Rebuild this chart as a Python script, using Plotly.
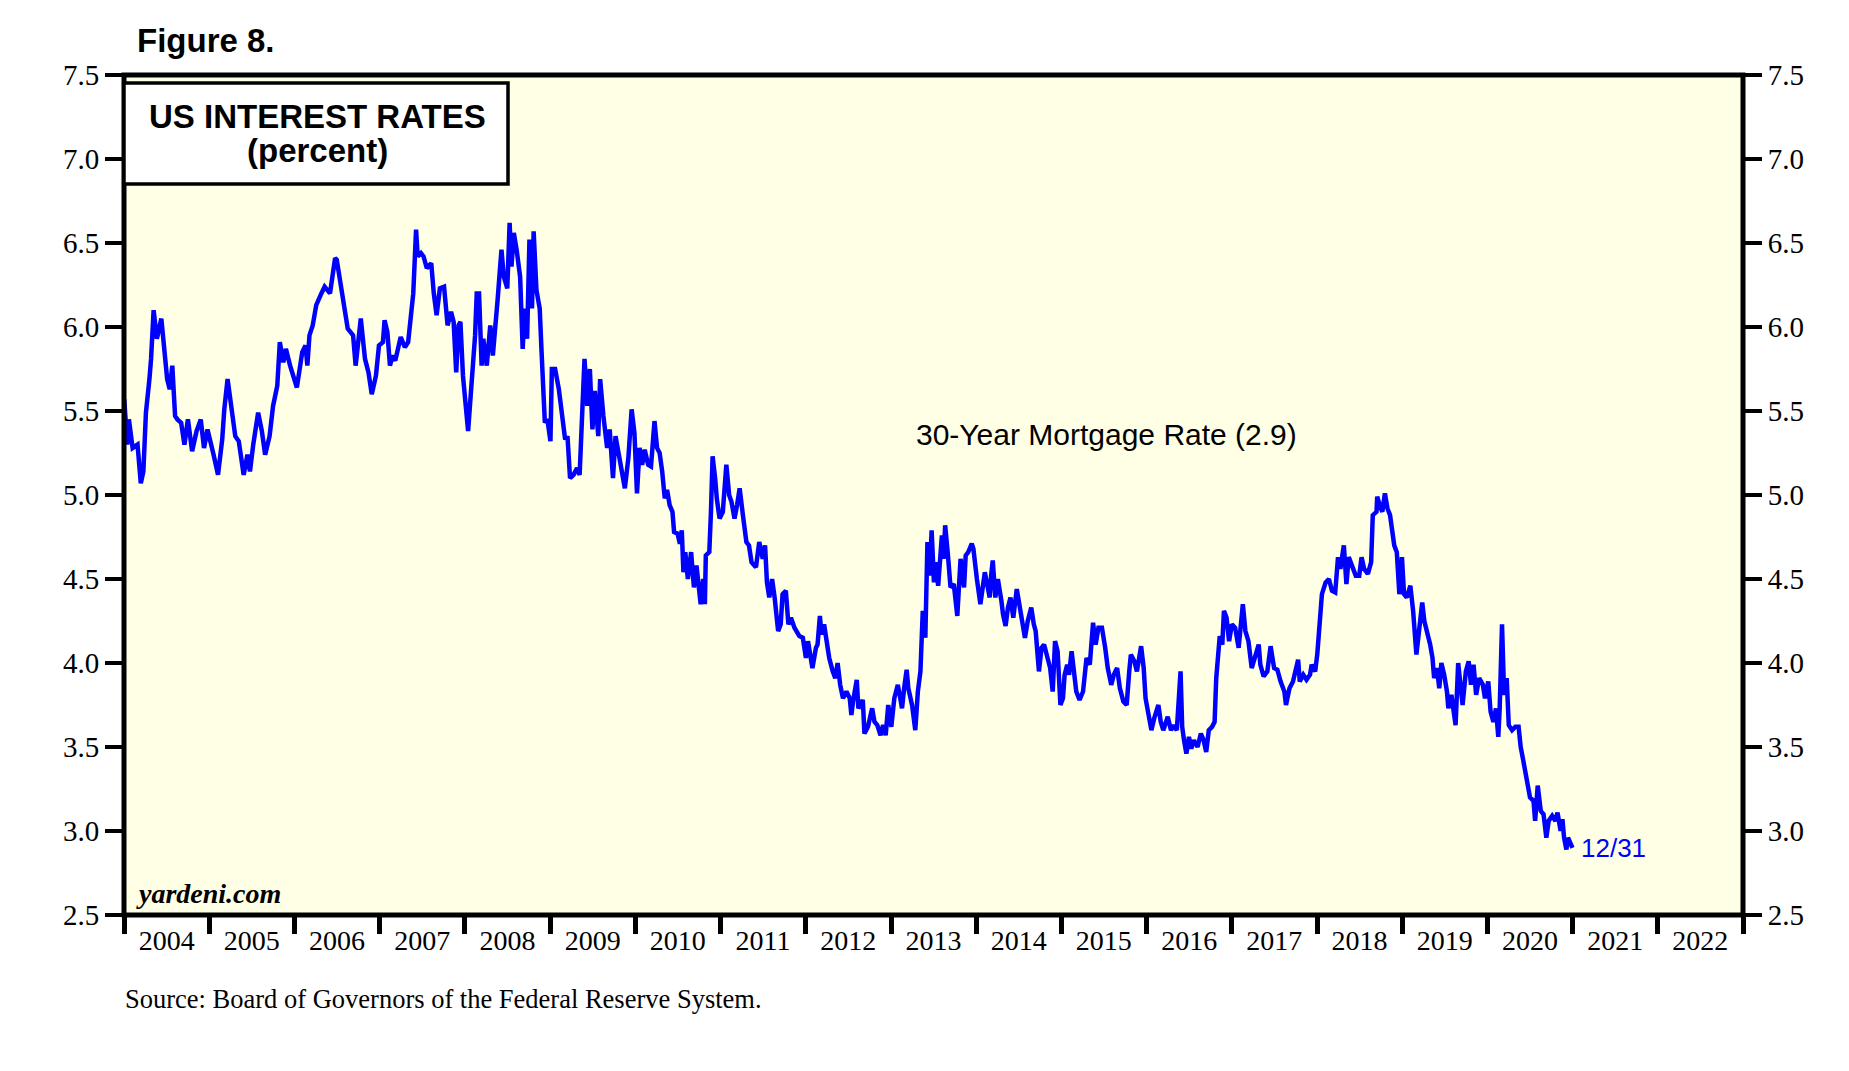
import plotly.graph_objects as go

# ---- data (30-Year Mortgage Rate, percent) ----
d2004 = ["2004-01-02","2004-01-15","2004-01-22","2004-02-07","2004-02-28","2004-03-13","2004-03-24","2004-04-04","2004-04-19","2004-04-26","2004-05-07","2004-05-21","2004-06-09","2004-06-16","2004-07-04","2004-07-15","2004-07-26","2004-08-07","2004-08-17","2004-09-02","2004-09-16","2004-10-01","2004-10-19","2004-11-07","2004-11-25","2004-12-09","2004-12-24"]
v2004 = [5.57,5.30,5.45,5.28,5.30,5.07,5.14,5.49,5.69,5.81,6.10,5.93,6.05,5.93,5.69,5.63,5.77,5.47,5.45,5.43,5.30,5.45,5.26,5.38,5.45,5.28,5.39]
d2005 = ["2005-01-19","2005-02-07","2005-02-25","2005-03-06","2005-03-20","2005-04-01","2005-04-22","2005-05-07","2005-05-28","2005-06-13","2005-06-24","2005-07-08","2005-07-29","2005-08-14","2005-08-28","2005-09-16","2005-10-01","2005-10-19","2005-10-30","2005-11-14","2005-11-25","2005-12-13"]
v2005 = [5.24,5.12,5.33,5.51,5.69,5.57,5.35,5.32,5.12,5.24,5.14,5.30,5.49,5.38,5.24,5.35,5.53,5.65,5.91,5.79,5.87,5.77]
d2006 = ["2006-01-11","2006-02-03","2006-02-17","2006-02-25","2006-03-06","2006-03-20","2006-04-04","2006-04-26","2006-05-10","2006-06-02","2006-06-24","2006-07-01","2006-07-19","2006-08-03","2006-08-17","2006-09-09","2006-09-20","2006-10-12","2006-10-30","2006-11-14","2006-11-28","2006-12-16","2006-12-29"]
v2006 = [5.64,5.85,5.89,5.77,5.95,6.01,6.13,6.20,6.24,6.20,6.41,6.40,6.24,6.11,5.99,5.95,5.77,6.05,5.81,5.73,5.60,5.71,5.89]
d2007 = ["2007-01-15","2007-01-22","2007-02-03","2007-02-14","2007-02-25","2007-03-09","2007-04-01","2007-04-19","2007-05-03","2007-05-14","2007-05-25","2007-06-06","2007-06-13","2007-06-27","2007-07-08","2007-07-22","2007-08-10","2007-08-21","2007-09-02","2007-09-16","2007-10-04","2007-10-19","2007-11-03","2007-11-14","2007-11-25","2007-12-05","2007-12-13","2007-12-24"]
v2007 = [5.91,6.04,5.97,5.77,5.83,5.80,5.94,5.88,5.91,6.07,6.20,6.58,6.42,6.44,6.42,6.35,6.38,6.20,6.07,6.23,6.24,6.01,6.09,6.03,5.73,6.01,6.03,5.71]
d2008 = ["2008-01-04","2008-01-15","2008-01-26","2008-02-14","2008-02-21","2008-03-02","2008-03-13","2008-03-20","2008-04-04","2008-04-19","2008-04-30","2008-05-10","2008-05-21","2008-06-06","2008-06-16","2008-07-01","2008-07-11","2008-07-19","2008-07-29","2008-08-10","2008-08-25","2008-09-05","2008-09-13","2008-09-24","2008-10-04","2008-10-15","2008-10-22","2008-11-03","2008-11-17","2008-11-25","2008-12-02","2008-12-09","2008-12-20"]
v2008 = [5.55,5.38,5.59,5.95,6.20,6.20,5.77,5.93,5.77,6.01,5.83,5.97,6.17,6.46,6.30,6.23,6.62,6.36,6.56,6.46,6.30,5.87,6.11,5.93,6.52,6.11,6.57,6.22,6.11,5.85,5.69,5.43,5.45]
d2009 = ["2009-01-02","2009-01-08","2009-01-22","2009-02-07","2009-02-21","2009-03-06","2009-03-16","2009-03-27","2009-04-11","2009-04-26","2009-05-07","2009-05-21","2009-05-28","2009-06-09","2009-06-20","2009-07-01","2009-07-11","2009-07-26","2009-08-03","2009-08-17","2009-09-02","2009-09-13","2009-09-27","2009-10-08","2009-10-26","2009-11-17","2009-12-02","2009-12-16","2009-12-28"]
v2009 = [5.32,5.75,5.75,5.63,5.47,5.33,5.35,5.10,5.12,5.16,5.12,5.53,5.81,5.53,5.75,5.39,5.62,5.35,5.69,5.47,5.28,5.39,5.10,5.35,5.20,5.04,5.22,5.51,5.37]
d2010 = ["2010-01-08","2010-01-19","2010-01-30","2010-02-10","2010-02-25","2010-03-09","2010-03-16","2010-03-24","2010-04-04","2010-04-15","2010-04-26","2010-05-07","2010-05-17","2010-05-28","2010-06-09","2010-06-16","2010-07-01","2010-07-11","2010-07-19","2010-07-26","2010-08-03","2010-08-14","2010-08-28","2010-09-09","2010-09-20","2010-10-01","2010-10-08","2010-10-19","2010-10-26","2010-10-30","2010-11-14","2010-11-21","2010-11-28","2010-12-09","2010-12-16","2010-12-28"]
v2010 = [5.01,5.28,5.18,5.27,5.18,5.17,5.28,5.44,5.28,5.25,5.14,4.98,5.03,4.94,4.90,4.78,4.77,4.71,4.79,4.54,4.66,4.50,4.66,4.45,4.58,4.39,4.35,4.50,4.35,4.64,4.66,4.90,5.23,5.10,4.98,4.86]
d2011 = ["2011-01-11","2011-01-26","2011-02-07","2011-02-17","2011-03-02","2011-03-13","2011-03-24","2011-04-07","2011-04-22","2011-05-03","2011-05-14","2011-06-02","2011-06-16","2011-07-01","2011-07-11","2011-07-19","2011-07-29","2011-08-10","2011-08-21","2011-09-05","2011-09-16","2011-09-24","2011-10-08","2011-10-19","2011-10-30","2011-11-14","2011-12-05","2011-12-20"]
v2011 = [4.90,5.18,5.00,4.96,4.86,4.94,5.04,4.88,4.72,4.70,4.60,4.57,4.72,4.62,4.70,4.48,4.39,4.50,4.39,4.19,4.23,4.41,4.43,4.23,4.27,4.21,4.16,4.15]
d2012 = ["2012-01-02","2012-01-11","2012-01-22","2012-01-30","2012-02-14","2012-02-21","2012-03-02","2012-03-09","2012-03-20","2012-04-01","2012-04-11","2012-04-26","2012-05-07","2012-05-17","2012-05-28","2012-06-09","2012-06-24","2012-07-08","2012-07-15","2012-07-22","2012-08-07","2012-08-14","2012-09-02","2012-09-09","2012-09-24","2012-10-12","2012-10-22","2012-11-03","2012-11-17","2012-11-28","2012-12-09","2012-12-20"]
v2012 = [4.03,4.13,4.03,3.97,4.09,4.11,4.28,4.17,4.23,4.09,4.03,3.95,3.91,4.00,3.87,3.79,3.83,3.79,3.69,3.77,3.90,3.73,3.78,3.58,3.62,3.73,3.65,3.63,3.57,3.63,3.57,3.75]
d2013 = ["2013-01-02","2013-01-15","2013-01-30","2013-02-07","2013-02-17","2013-02-28","2013-03-09","2013-03-16","2013-04-01","2013-04-15","2013-04-26","2013-05-07","2013-05-17","2013-05-28","2013-06-06","2013-06-16","2013-06-24","2013-07-04","2013-07-11","2013-07-22","2013-08-07","2013-08-14","2013-08-21","2013-09-02","2013-09-13","2013-09-27","2013-10-12","2013-10-26","2013-11-10","2013-11-17","2013-11-28","2013-12-13","2013-12-20"]
v2013 = [3.62,3.79,3.87,3.81,3.73,3.87,3.96,3.85,3.75,3.60,3.83,3.95,4.31,4.15,4.72,4.52,4.79,4.48,4.60,4.46,4.76,4.62,4.82,4.64,4.45,4.47,4.28,4.62,4.45,4.64,4.66,4.71,4.68]
d2014 = ["2014-01-04","2014-01-19","2014-02-07","2014-02-17","2014-02-28","2014-03-06","2014-03-13","2014-03-24","2014-04-04","2014-04-19","2014-04-26","2014-05-07","2014-05-17","2014-05-28","2014-06-09","2014-06-24","2014-07-08","2014-07-22","2014-07-29","2014-08-10","2014-08-25","2014-09-05","2014-09-13","2014-09-27","2014-10-08","2014-10-19","2014-10-30","2014-11-14","2014-11-25","2014-12-05","2014-12-16","2014-12-28"]
v2014 = [4.50,4.35,4.54,4.48,4.39,4.52,4.61,4.39,4.50,4.37,4.29,4.22,4.33,4.39,4.27,4.44,4.33,4.23,4.15,4.25,4.33,4.23,4.19,3.95,4.09,4.11,4.05,3.97,3.83,4.13,4.07,3.75]
d2015 = ["2015-01-08","2015-01-15","2015-01-26","2015-02-03","2015-02-14","2015-02-28","2015-03-06","2015-03-20","2015-04-04","2015-04-19","2015-05-03","2015-05-17","2015-05-28","2015-06-09","2015-06-24","2015-07-08","2015-07-19","2015-08-03","2015-08-14","2015-08-28","2015-09-09","2015-09-24","2015-10-08","2015-10-19","2015-10-26","2015-11-10","2015-11-21","2015-12-09","2015-12-20","2015-12-28"]
v2015 = [3.79,3.93,3.99,3.93,4.07,3.91,3.83,3.78,3.83,4.03,3.99,4.24,4.11,4.21,4.21,4.09,3.97,3.87,3.93,3.97,3.85,3.77,3.75,3.95,4.05,4.01,3.95,4.10,3.97,3.79]
d2016 = ["2016-01-11","2016-01-22","2016-02-03","2016-02-21","2016-03-02","2016-03-13","2016-04-01","2016-04-15","2016-04-26","2016-05-10","2016-05-26","2016-06-02","2016-06-10","2016-06-20","2016-07-01","2016-07-11","2016-07-22","2016-08-07","2016-08-21","2016-09-02","2016-09-13","2016-09-24","2016-10-08","2016-10-19","2016-10-26","2016-11-02","2016-11-10","2016-11-21","2016-11-28","2016-12-09","2016-12-20"]
v2016 = [3.69,3.60,3.67,3.75,3.65,3.60,3.68,3.60,3.63,3.60,3.95,3.62,3.54,3.46,3.56,3.49,3.54,3.50,3.58,3.54,3.47,3.60,3.62,3.65,3.91,4.05,4.16,4.11,4.31,4.27,4.13]
d2017 = ["2017-01-01","2017-01-15","2017-01-30","2017-02-07","2017-02-17","2017-02-28","2017-03-13","2017-03-27","2017-04-11","2017-04-26","2017-05-03","2017-05-17","2017-06-02","2017-06-16","2017-07-01","2017-07-15","2017-07-29","2017-08-14","2017-08-21","2017-09-05","2017-09-20","2017-10-01","2017-10-12","2017-10-19","2017-11-03","2017-11-17","2017-12-02","2017-12-09","2017-12-24"]
v2017 = [4.23,4.21,4.09,4.21,4.35,4.19,4.13,3.97,4.05,4.11,3.99,3.92,3.95,4.10,3.97,3.96,3.89,3.83,3.75,3.85,3.89,3.95,4.02,3.89,3.93,3.90,3.93,3.99,3.95]
d2018 = ["2018-01-02","2018-01-11","2018-01-22","2018-02-07","2018-02-21","2018-03-06","2018-03-20","2018-04-01","2018-04-11","2018-04-26","2018-05-07","2018-05-17","2018-06-02","2018-06-16","2018-07-01","2018-07-11","2018-07-22","2018-08-07","2018-08-21","2018-08-28","2018-09-13","2018-09-16","2018-10-01","2018-10-08","2018-10-19","2018-10-30","2018-11-10","2018-11-28","2018-12-09","2018-12-16","2018-12-20","2018-12-27","2018-12-31"]
v2018 = [4.05,4.19,4.41,4.48,4.50,4.43,4.42,4.63,4.56,4.70,4.47,4.63,4.56,4.52,4.52,4.63,4.56,4.53,4.60,4.88,4.90,4.99,4.92,4.90,5.01,4.92,4.88,4.70,4.66,4.52,4.41,4.46,4.63]
d2019 = ["2019-01-09","2019-01-21","2019-02-05","2019-02-17","2019-03-03","2019-03-14","2019-03-28","2019-04-06","2019-04-18","2019-05-01","2019-05-11","2019-05-18","2019-05-30","2019-06-09","2019-06-18","2019-06-30","2019-07-12","2019-07-18","2019-07-31","2019-08-11","2019-08-18","2019-08-29","2019-09-10","2019-09-17","2019-10-01","2019-10-13","2019-10-23","2019-11-03","2019-11-14","2019-11-27","2019-12-13","2019-12-22"]
v2019 = [4.41,4.39,4.46,4.31,4.05,4.19,4.36,4.25,4.19,4.11,4.03,3.91,3.97,3.85,4.00,3.93,3.83,3.73,3.81,3.71,3.63,4.00,3.85,3.75,3.95,4.01,3.87,3.99,3.81,3.91,3.87,3.79]
d2020 = ["2020-01-05","2020-01-15","2020-01-27","2020-02-07","2020-02-17","2020-02-23","2020-03-04","2020-03-13","2020-03-24","2020-04-02","2020-04-16","2020-04-30","2020-05-14","2020-05-23","2020-06-03","2020-06-18","2020-07-02","2020-07-17","2020-07-24","2020-08-04","2020-08-17","2020-08-29","2020-09-10","2020-09-20","2020-10-05","2020-10-19","2020-10-28","2020-11-10","2020-11-18","2020-11-25","2020-12-05","2020-12-12","2020-12-24","2020-12-31"]
v2020 = [3.89,3.71,3.65,3.73,3.56,3.73,4.23,3.81,3.91,3.63,3.60,3.62,3.62,3.50,3.42,3.32,3.20,3.18,3.06,3.27,3.12,3.10,2.96,3.06,3.09,3.06,3.11,3.00,3.07,2.96,2.89,2.96,2.93,2.90]

dates = (d2004 + d2005 + d2006 + d2007 + d2008 + d2009 + d2010 + d2011 + d2012
         + d2013 + d2014 + d2015 + d2016 + d2017 + d2018 + d2019 + d2020)
rates = (v2004 + v2005 + v2006 + v2007 + v2008 + v2009 + v2010 + v2011 + v2012
         + v2013 + v2014 + v2015 + v2016 + v2017 + v2018 + v2019 + v2020)

years = list(range(2004, 2023))
year_labels = [str(y) for y in years]
y_ticks = [2.5, 3.0, 3.5, 4.0, 4.5, 5.0, 5.5, 6.0, 6.5, 7.0, 7.5]

series_name = "30-Year Mortgage Rate (2.9)"
last_label = "12/31"

SERIF = "Liberation Serif, Times New Roman, serif"
SANS = "Liberation Sans, Arial, sans-serif"

# plot-area geometry in pixels (figure 1849 x 1071)
L, R, T, B = 116, 1735, 67, 907
W, H = R - L, B - T
def px(x):
    return (x - L) / W
def py(y):
    return (B - y) / H

fig = go.Figure()
fig.add_trace(go.Scatter(x=dates, y=rates, mode="lines",
                         line=dict(color="#0000FF", width=4.5),
                         hoverinfo="skip", showlegend=False))
# invisible copy so the right-hand axis renders
fig.add_trace(go.Scatter(x=dates, y=rates, mode="lines", yaxis="y2",
                         line=dict(color="rgba(0,0,0,0)", width=0),
                         hoverinfo="skip", showlegend=False))

yfont = dict(family=SERIF, size=29, color="black")
xfont = dict(family=SERIF, size=28, color="black")

fig.update_layout(
    width=1849, height=1071,
    margin=dict(l=L, r=1849 - R, t=T, b=1071 - B),
    paper_bgcolor="white",
    plot_bgcolor="#FFFFE6",
    xaxis=dict(
        type="date",
        range=["2004-01-01", "2023-01-01"],
        tickmode="array",
        tickvals=[f"{y}-07-02" for y in years],
        ticktext=year_labels,
        ticks="",
        showgrid=False, zeroline=False, showline=False,
        tickfont=xfont,
        ticklabelstandoff=6,
        minor=dict(tickmode="array",
                   tickvals=[f"{y}-01-01" for y in years + [2023]],
                   ticks="outside", ticklen=18, tickwidth=5,
                   tickcolor="black", showgrid=False),
    ),
    yaxis=dict(
        range=[2.5, 7.5], tickmode="array", tickvals=y_ticks,
        tickformat=".1f", ticks="outside", ticklen=18, tickwidth=3.5,
        tickcolor="black", showgrid=False, zeroline=False, showline=False,
        tickfont=yfont,
    ),
    yaxis2=dict(
        range=[2.5, 7.5], tickmode="array", tickvals=y_ticks,
        tickformat=".1f", ticks="outside", ticklen=18, tickwidth=3.5,
        tickcolor="black", showgrid=False, zeroline=False, showline=False,
        tickfont=yfont, overlaying="y", side="right", matches="y",
    ),
    shapes=[
        dict(type="rect", xref="paper", yref="paper", x0=0, x1=1, y0=0, y1=1,
             line=dict(color="black", width=5), layer="above"),
        dict(type="rect", xref="paper", yref="paper", x0=0.0, x1=px(500),
             y0=py(176), y1=py(75), fillcolor="white",
             line=dict(color="black", width=3.5), layer="above"),
    ],
    annotations=[
        dict(text="<b>Figure 8.</b>", xref="paper", yref="paper",
             x=px(127), y=py(33), xanchor="left", yanchor="middle",
             showarrow=False, font=dict(family=SANS, size=33, color="black")),
        dict(text="<b>US INTEREST RATES</b>", xref="paper", yref="paper",
             x=px(309), y=py(108), xanchor="center", yanchor="middle",
             showarrow=False, font=dict(family=SANS, size=33, color="black")),
        dict(text="<b>(percent)</b>", xref="paper", yref="paper",
             x=px(309), y=py(142), xanchor="center", yanchor="middle",
             showarrow=False, font=dict(family=SANS, size=33, color="black")),
        dict(text=series_name, xref="paper", yref="paper",
             x=px(1098), y=py(426), xanchor="center", yanchor="middle",
             showarrow=False, font=dict(family=SANS, size=30, color="black")),
        dict(text=last_label, xref="x", yref="y",
             x="2021-01-28", y=2.90, xanchor="left", yanchor="middle",
             showarrow=False, font=dict(family=SANS, size=26, color="#0000FF")),
        dict(text="<b><i>yardeni.com</i></b>", xref="paper", yref="paper",
             x=px(126), y=py(885), xanchor="left", yanchor="middle",
             showarrow=False, font=dict(family=SERIF, size=28, color="black")),
        dict(text="Source: Board of Governors of the Federal Reserve System.",
             xref="paper", yref="paper", x=px(115), y=py(991),
             xanchor="left", yanchor="middle", showarrow=False,
             font=dict(family=SERIF, size=26.5, color="black")),
    ],
)

fig.write_html("out.html")
